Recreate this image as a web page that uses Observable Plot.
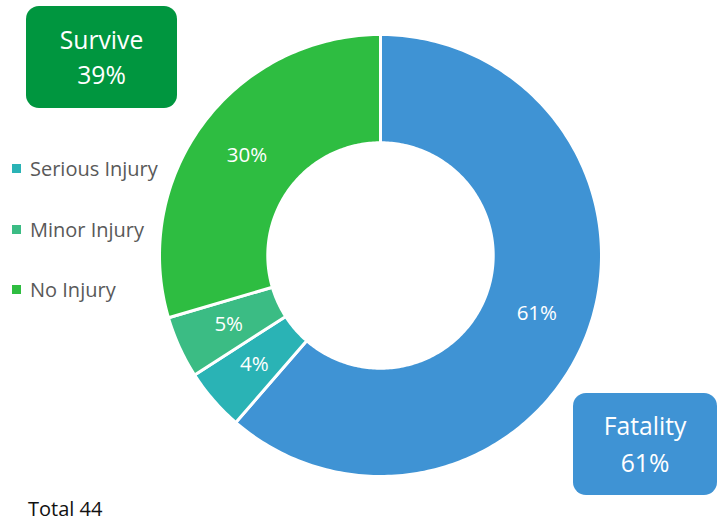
<!DOCTYPE html>
<html>
<head>
<meta charset="utf-8">
<script src="https://cdn.jsdelivr.net/npm/d3@7"></script>
<script src="https://cdn.jsdelivr.net/npm/@observablehq/plot@0.6"></script>
<style>
  body { margin: 0; background: #fff; font-family: "Open Sans", Lato, sans-serif; }
  #wrap { position: relative; width: 719px; height: 521px; overflow: hidden; }
  #chart { position: absolute; left: 0; top: 0; }
  .box { position: absolute; border-radius: 13px; color: #fff; font-size: 24.7px;
         display: flex; flex-direction: column; align-items: center; justify-content: center; }
  .legend { position: absolute; left: 12px; font-size: 20px; color: #595959; display: flex; align-items: center; }
  .legend .sw { width: 9px; height: 9px; margin-right: 9px; }
  #total { position: absolute; left: 28px; top: 497px; font-size: 20px; color: #111; line-height: 24px; }
</style>
</head>
<body>
<div id="wrap">
  <div id="chart"></div>
</div>
<script>
// ---- data ----
const categories = ["Fatality", "Serious Injury", "Minor Injury", "No Injury"];
const counts = [27, 2, 2, 13];
const sliceLabels = ["61%", "4%", "5%", "30%"];
const colors = ["#3f93d4", "#2ab3b5", "#3bbc84", "#2ebd41"];
const legendItems = ["Serious Injury", "Minor Injury", "No Injury"];
const groupNames = ["Survive", "Fatality"];
const groupLabels = ["39%", "61%"];
const groupColors = ["#00963f", "#3f93d4"];
const totalLabel = "Total 44";

// ---- geometry from data ----
const innerRatio = 0.51;
const pie = d3.pie().sort(null).value(d => d.value);
const arcs = pie(categories.map((c, i) => ({ name: c, value: counts[i], label: sliceLabels[i] })));

const rows = [];
const labels = [];
for (const a of arcs) {
  const n = Math.max(8, Math.ceil((a.endAngle - a.startAngle) * 60));
  for (let k = 0; k <= n; k++) {
    const t = a.startAngle + (a.endAngle - a.startAngle) * k / n;
    rows.push({ name: a.data.name, x: Math.sin(t), y: Math.cos(t) });
  }
  for (let k = n; k >= 0; k--) {
    const t = a.startAngle + (a.endAngle - a.startAngle) * k / n;
    rows.push({ name: a.data.name, x: innerRatio * Math.sin(t), y: innerRatio * Math.cos(t) });
  }
  const m = (a.startAngle + a.endAngle) / 2, rm = (1 + innerRatio) / 2;
  labels.push({ label: a.data.label, x: rm * Math.sin(m), y: rm * Math.cos(m) });
}

const cx = 380, cy = 255, R = 221;
const chart = Plot.plot({
  width: 719,
  height: 521,
  margin: 0,
  x: { domain: [-1, 1], range: [cx - R, cx + R], axis: null },
  y: { domain: [-1, 1], range: [cy + R, cy - R], axis: null },
  color: { domain: categories, range: colors },
  style: { fontFamily: "'Open Sans', Lato, sans-serif", background: "transparent" },
  marks: [
    Plot.line(rows, { x: "x", y: "y", z: "name", fill: "name", stroke: "white", strokeWidth: 3, curve: "linear-closed" }),
    Plot.text(labels, { x: "x", y: "y", text: "label", fill: "white", fontSize: 20.5 })
  ]
});
document.getElementById("chart").appendChild(chart);

const wrap = document.getElementById("wrap");
// group boxes
const boxPos = [
  { left: 26, top: 6, width: 151, height: 102, lh: 35 },
  { left: 573, top: 393, width: 144, height: 102, lh: 37 }
];
groupNames.forEach((g, i) => {
  const d = document.createElement("div");
  d.className = "box";
  const p = boxPos[i];
  Object.assign(d.style, { left: p.left + "px", top: p.top + "px", width: p.width + "px", height: p.height + "px",
    background: groupColors[i], lineHeight: p.lh + "px" });
  d.innerHTML = `<div>${g}</div><div>${groupLabels[i]}</div>`;
  wrap.appendChild(d);
});
// legend
const legendTops = [155, 216, 276];
legendItems.forEach((name, i) => {
  const d = document.createElement("div");
  d.className = "legend";
  d.style.top = legendTops[i] + "px";
  d.style.height = "26px";
  d.innerHTML = `<span class="sw" style="background:${colors[categories.indexOf(name)]}"></span><span>${name}</span>`;
  wrap.appendChild(d);
});
// total
const t = document.createElement("div");
t.id = "total";
t.textContent = totalLabel;
wrap.appendChild(t);
</script>
</body>
</html>
